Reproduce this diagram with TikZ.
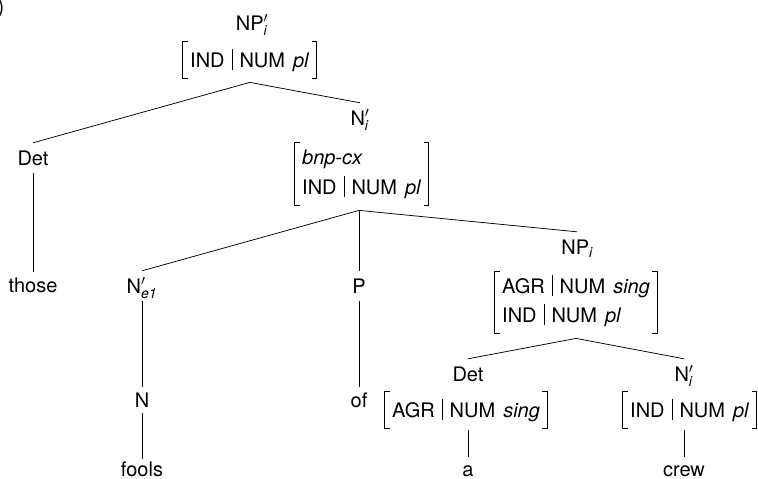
\documentclass[tikz,border=0pt]{standalone}
\usepackage{amsmath}
\usepackage{fontspec}
\setmainfont{TeX Gyre Heros}
\usetikzlibrary{fit}
\newcommand{\vb}{\hspace{0.36em}\rule[-3pt]{0.5pt}{21pt}\hspace{0.36em}}
\newcommand{\vsp}{\hspace{0.4em}}
\newcommand{\lab}[3]{#1\ensuremath{{}#2_{\textit{#3}}}}
\begin{document}
\begin{tikzpicture}[x=1pt,y=-1pt,
  every node/.style={font=\fontsize{20}{24}\selectfont, inner sep=0pt},
  cat/.style={text height=14pt, text depth=0pt, anchor=base},
  row/.style={text height=14pt, text depth=0pt, anchor=base west},
  rowlast/.style={text height=14pt, text depth=4pt, anchor=base west},
  onebox/.style={inner xsep=7pt, inner ysep=11pt},
  twobox/.style={inner xsep=7pt, inner ysep=7pt},
  branch/.style={line width=0.75pt},
  brk/.style={line width=0.7pt}]
\useasboundingbox (0,0) rectangle (758,479);

% labels
\node[anchor=base east] (paren) at (4.5,13.5) {)};
\node[cat] (np1) at (252,30) {\lab{NP}{'}{i}};
\node[row] (a1) at (190,67) {IND\vb NUM\vsp\textit{pl}};
\node[onebox, fit=(a1)] (A) {};

\node[cat] (det1) at (33,165) {Det};
\node[cat] (those) at (33,292) {those};

\node[cat] (nbar1) at (360,125) {\lab{N}{'}{i}};
\node[row] (b1) at (302,164) {\textit{bnp-cx}};
\node[rowlast] (b2) at (302,194) {IND\vb NUM\vsp\textit{pl}};
\node[twobox, fit=(b1)(b2)] (B) {};

\node[cat] (nbar2) at (142,293) {\lab{N}{'}{e1}};
\node[cat] (n) at (142,407) {N};
\node[cat] (fools) at (142,476) {fools};

\node[cat] (p) at (359,293) {P};
\node[cat] (of) at (359,407) {of};

\node[cat] (np2) at (577,254) {\lab{NP}{}{i}};
\node[row] (c1) at (502,293) {AGR\vb NUM\vsp\textit{sing}};
\node[rowlast] (c2) at (502,322) {IND\vb NUM\vsp\textit{pl}};
\node[twobox, fit=(c1)(c2)] (C) {};

\node[cat] (det2) at (468,381) {Det};
\node[row] (d1) at (392,417) {AGR\vb NUM\vsp\textit{sing}};
\node[onebox, fit=(d1)] (D) {};
\node[cat] (a) at (468,476) {a};

\node[cat] (nbar3) at (684,381) {\lab{N}{'}{i}};
\node[row] (e1) at (630,417) {IND\vb NUM\vsp\textit{pl}};
\node[onebox, fit=(e1)] (E) {};
\node[cat] (crew) at (684,476) {crew};

% brackets
\foreach \b in {A,B,C,D,E} {
  \draw[brk] ([xshift=5pt]\b.north west) -- (\b.north west) -- (\b.south west) -- ([xshift=5pt]\b.south west);
  \draw[brk] ([xshift=-5pt]\b.north east) -- (\b.north east) -- (\b.south east) -- ([xshift=-5pt]\b.south east);
}

% branch points
\coordinate (apexA) at ([yshift=-4pt]A.south);
\coordinate (apexB) at ([yshift=-5pt]B.south -| p.north);
\coordinate (apexC) at ([yshift=-5pt]C.south);

% connectors
\draw[branch] (apexA) -- ([yshift=8pt]det1.north);
\draw[branch] (apexA) -- ([yshift=8pt]nbar1.north);
\draw[branch] ([yshift=-8pt]det1.south) -- ([yshift=6pt]those.north);
\draw[branch] (apexB) -- ([yshift=8pt]nbar2.north);
\draw[branch] (apexB) -- ([yshift=8pt]p.north);
\draw[branch] (apexB) -- ([yshift=8pt]np2.north);
\draw[branch] ([yshift=-8pt]nbar2.south) -- ([yshift=6pt]n.north);
\draw[branch] ([yshift=-8pt]p.south) -- ([yshift=6pt]of.north);
\draw[branch] ([yshift=-6pt]n.south) -- ([yshift=3pt]fools.north);
\draw[branch] (apexC) -- ([yshift=8pt]det2.north);
\draw[branch] (apexC) -- ([yshift=8pt]nbar3.north);
\draw[branch] ([yshift=-2pt]D.south -| a.north) -- ([yshift=5pt]a.north);
\draw[branch] ([yshift=-2pt]E.south -| crew.north) -- ([yshift=5pt]crew.north);
\end{tikzpicture}
\end{document}
